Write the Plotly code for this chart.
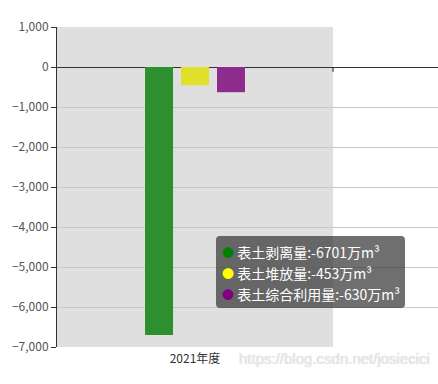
import plotly.graph_objects as go

categories = ["2021年度"]
series_names = ["表土剥离量", "表土堆放量", "表土综合利用量"]
series_values = [[-6701], [-453], [-630]]
bar_colors = ["#2e8f2e", "#e0e02a", "#8e2b8e"]
marker_colors = ["#008000", "#ffff00", "#800080"]
unit = "万m³"
y_ticks = [1000, 0, -1000, -2000, -3000, -4000, -5000, -6000, -7000]
watermark = "https://blog.csdn.net/josiecici"

FONT = "Noto Sans CJK SC, Microsoft YaHei, sans-serif"
W, H = 438, 384
L, R, T, B = 57, 0, 27, 37
PW, PH = W - L - R, H - T - B


def px(x):
    return (x - L) / PW


def py(y):
    return (H - B - y) / PH


fig = go.Figure()
for name, vals, col in zip(series_names, series_values, bar_colors):
    fig.add_trace(go.Bar(
        x=categories, y=vals, name=name,
        marker=dict(color=col, line=dict(width=0)),
        hoverinfo="skip",
    ))

# category band shading (axis pointer shadow)
fig.add_shape(type="rect", xref="x", yref="paper", x0=-0.5, x1=0.5, y0=0, y1=1,
              fillcolor="#dfdfdf", line=dict(width=0), layer="below")
# category boundary tick on zero axis
fig.add_shape(type="line", xref="x", yref="y", x0=0.5, x1=0.5, y0=0, y1=-120,
              line=dict(color="#333", width=1.2))

# tooltip box with rounded corners
bx0, bx1, by0, by1, r = 216, 405, 236, 308, 4
rx, ry = r / PW, r / PH
X0, X1, Y0, Y1 = px(bx0), px(bx1), py(by1), py(by0)
path = (f"M {X0+rx},{Y1} L {X1-rx},{Y1} Q {X1},{Y1} {X1},{Y1-ry} "
        f"L {X1},{Y0+ry} Q {X1},{Y0} {X1-rx},{Y0} L {X0+rx},{Y0} "
        f"Q {X0},{Y0} {X0},{Y0+ry} L {X0},{Y1-ry} Q {X0},{Y1} {X0+rx},{Y1} Z")
fig.add_shape(type="path", xref="paper", yref="paper", path=path,
              fillcolor="rgba(50,50,50,0.7)", line=dict(width=0), layer="above")

line_y = [252, 273, 294]
for name, vals, mc, ly in zip(series_names, series_values, marker_colors, line_y):
    fig.add_annotation(
        xref="paper", yref="paper", x=px(220), y=py(ly),
        xanchor="left", yanchor="middle", showarrow=False, align="left",
        text=(f"<span style='color:{mc};font-size:12px'>●</span> "
              f"{name}:{vals[0]}{unit}"),
        font=dict(family=FONT, size=14, color="#ffffff"),
    )

# watermark
fig.add_annotation(
    xref="paper", yref="paper", x=px(432), y=py(358),
    xanchor="right", yanchor="middle", showarrow=False,
    text=watermark,
    font=dict(family="Liberation Sans, Arial", size=15, color="#ececec",
              shadow="0px 0px 1px #bdbdbd"),
)

fig.update_layout(
    width=W, height=H,
    margin=dict(l=L, r=R, t=T, b=B, autoexpand=False),
    paper_bgcolor="white", plot_bgcolor="white",
    barmode="group", bargap=0.609, bargroupgap=0.222,
    showlegend=False,
    font=dict(family=FONT, size=12, color="#333"),
    xaxis=dict(
        type="category", range=[-0.5, 0.5 + (438 - 333) / 276],
        showgrid=False, showline=False, ticks="", zeroline=False,
        tickfont=dict(size=12, color="#333"), automargin=False,
        ticklabelstandoff=3,
    ),
    yaxis=dict(
        range=[-7000, 1000], tickvals=y_ticks,
        tickformat=",d", automargin=False,
        showgrid=True, gridcolor="#c8c8c8", gridwidth=1,
        zeroline=True, zerolinecolor="#333", zerolinewidth=1,
        showline=True, linecolor="#333", linewidth=1,
        ticks="outside", ticklen=5, tickcolor="#333",
        tickfont=dict(size=12, color="#555"),
    ),
)

fig.write_html("out.html", config={"displayModeBar": False},
               post_script="document.body.style.margin='0';document.body.style.overflow='hidden';")
